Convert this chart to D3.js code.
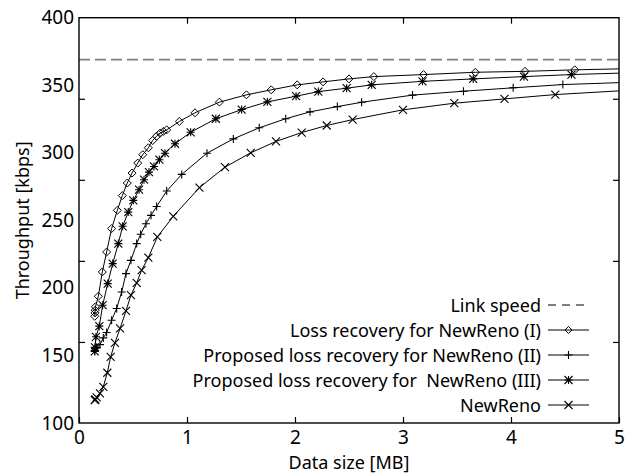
<!DOCTYPE html>
<html>
<head>
<meta charset="utf-8">
<script src="https://cdn.jsdelivr.net/npm/d3@7"></script>
<style>
  html, body { margin: 0; padding: 0; background: #fff; }
  svg { display: block; font-family: "Noto Sans", "Lato", sans-serif; }
</style>
</head>
<body>
<svg id="chart" width="625" height="474"></svg>
<script>
// ---- data ----
const linkSpeed = 369;

const sizesI = [0.146,0.148,0.150,0.152,0.179,0.216,0.256,0.302,0.355,0.401,0.447,0.491,0.544,0.590,0.642,0.682,0.719,0.750,0.781,0.812,0.929,1.074,1.30,1.55,1.78,2.02,2.26,2.50,2.73,3.19,3.67,4.13,4.59,5.1];
const tputI  = [179,181.5,183.5,186,193.8,211.8,226.6,243.9,257.4,268.3,277.6,285,292.4,298.6,303.7,309.1,312.3,314.5,315.8,317,323.2,329.6,337.5,342.9,346.6,350.3,352.5,354.7,356.4,357.9,359.6,360.3,361.4,362.3];

const sizesII = [0.146,0.150,0.164,0.194,0.225,0.256,0.302,0.349,0.395,0.435,0.481,0.534,0.571,0.620,0.667,0.719,0.812,0.951,1.185,1.429,1.669,1.914,2.139,2.392,2.617,3.088,3.56,4.02,4.48,5.1];
const tputII  = [153.5,155,156,158,163,167,176.1,184.8,197,210.6,220.4,232.8,239.7,247.5,253.7,260.3,271.7,284,299.7,310.3,318.5,325.2,330.3,334.2,337.4,342.7,345.6,348.1,350.5,352.2];

const sizesIII = [0.146,0.148,0.157,0.188,0.219,0.266,0.312,0.364,0.404,0.456,0.503,0.556,0.602,0.648,0.694,0.744,0.796,0.889,1.034,1.267,1.506,1.744,2.01,2.216,2.478,2.71,3.18,3.65,4.12,4.56,5.1];
const tputIII  = [153,156,163.8,171.7,187.2,203.2,218,232.8,245.6,256.1,264.8,272.7,280.1,285.7,289.9,294.9,299.7,306.7,315.2,325.2,332,337.7,341.9,345.3,347.8,350.3,352.9,354.7,356.4,357.9,359.2];

const sizesNR = [0.146,0.152,0.164,0.194,0.225,0.262,0.293,0.333,0.380,0.435,0.481,0.534,0.580,0.642,0.725,0.873,1.115,1.352,1.59,1.824,2.062,2.294,2.534,3.0,3.475,3.94,4.41,5.1];
const tputNR  = [117,117.5,119,121.9,126.8,137.2,149,159.3,170,183,194.6,203.7,213.1,222.4,237.7,253,274.2,289.4,300,308.4,315,320.2,324.6,331.8,336.7,339.9,343.1,346.3];

const seriesNames = [
  "Loss recovery for NewReno (I)",
  "Proposed loss recovery for NewReno (II)",
  "Proposed loss recovery for  NewReno (III)",
  "NewReno"
];
const seriesMarkers = ["diamond", "plus", "star", "cross"];
const linkLabel = "Link speed";

const xTickValues = [0, 1, 2, 3, 4, 5];
const yLabelValues = [100, 150, 200, 250, 300, 350, 400];
const yTickMarks = [160, 220, 280, 340];
const xTitle = "Data size [MB]";
const yTitle = "Throughput [kbps]";

// ---- layout ----
const L = 79, R = 619, T = 17.7, B = 423;
const svg = d3.select("#chart");
const x = d3.scaleLinear().domain([0, 5]).range([L, R]);
const y = d3.scaleLinear().domain([100, 400]).range([B, T]);

const FONT = "'Noto Sans', Lato, sans-serif";
const fontSize = 19;

svg.append("defs").append("clipPath").attr("id", "clip")
  .append("rect").attr("x", L).attr("y", T).attr("width", R - L).attr("height", B - T);

// link speed dashed line
svg.append("line")
  .attr("x1", x(0)).attr("x2", x(5))
  .attr("y1", y(linkSpeed)).attr("y2", y(linkSpeed))
  .attr("stroke", "#808080").attr("stroke-width", 1.6)
  .attr("stroke-dasharray", "11,5");

// markers
function drawMarker(g, type, cx, cy, s) {
  if (type === "diamond") {
    g.append("path").attr("d", `M${cx},${cy - s}L${cx + s},${cy}L${cx},${cy + s}L${cx - s},${cy}Z`)
      .attr("fill", "none").attr("stroke", "#000").attr("stroke-width", 1);
  } else if (type === "plus") {
    g.append("path").attr("d", `M${cx - s},${cy}H${cx + s}M${cx},${cy - s}V${cy + s}`)
      .attr("stroke", "#000").attr("stroke-width", 1.1);
  } else if (type === "cross") {
    g.append("path").attr("d", `M${cx - s},${cy - s}L${cx + s},${cy + s}M${cx - s},${cy + s}L${cx + s},${cy - s}`)
      .attr("stroke", "#000").attr("stroke-width", 1.1);
  } else if (type === "star") {
    g.append("path").attr("d", `M${cx - s},${cy}H${cx + s}M${cx},${cy - s}V${cy + s}M${cx - s},${cy - s}L${cx + s},${cy + s}M${cx - s},${cy + s}L${cx + s},${cy - s}`)
      .attr("stroke", "#000").attr("stroke-width", 1.1);
  }
}

const allSeries = [
  { xs: sizesI, ys: tputI, m: seriesMarkers[0] },
  { xs: sizesII, ys: tputII, m: seriesMarkers[1] },
  { xs: sizesIII, ys: tputIII, m: seriesMarkers[2] },
  { xs: sizesNR, ys: tputNR, m: seriesMarkers[3] }
];

const line = d3.line().x(d => x(d[0])).y(d => y(d[1]));
const plot = svg.append("g").attr("clip-path", "url(#clip)");
allSeries.forEach(s => {
  const pts = s.xs.map((v, i) => [v, s.ys[i]]);
  plot.append("path").datum(pts).attr("d", line)
    .attr("fill", "none").attr("stroke", "#000").attr("stroke-width", 1);
  const mg = plot.append("g");
  pts.forEach(p => drawMarker(mg, s.m, x(p[0]), y(p[1]), 4));
});

// axes frame
svg.append("rect").attr("x", L).attr("y", T).attr("width", R - L).attr("height", B - T)
  .attr("fill", "none").attr("stroke", "#000").attr("stroke-width", 1.4);

// bottom axis (ticks inward + labels)
const xAxisB = svg.append("g").attr("transform", `translate(0,${B})`)
  .call(d3.axisBottom(x).tickValues(xTickValues).tickSizeInner(-6).tickSizeOuter(0).tickPadding(8).tickFormat(d3.format("d")));
xAxisB.select(".domain").remove();
xAxisB.selectAll("text").attr("font-size", fontSize).attr("font-family", FONT).attr("fill", "#000");
xAxisB.selectAll("line").attr("stroke-width", 1.2);

// top axis ticks
const xAxisT = svg.append("g").attr("transform", `translate(0,${T})`)
  .call(d3.axisTop(x).tickValues(xTickValues.slice(1, -1)).tickSizeInner(-6).tickSizeOuter(0).tickFormat(""));
xAxisT.select(".domain").remove();
xAxisT.selectAll("line").attr("stroke-width", 1.2);

// left axis labels
const yAxisL = svg.append("g").attr("transform", `translate(${L},0)`)
  .call(d3.axisLeft(y).tickValues(yLabelValues).tickSize(0).tickPadding(5).tickFormat(d3.format("d")));
yAxisL.select(".domain").remove();
yAxisL.selectAll("text").attr("font-size", fontSize).attr("font-family", FONT).attr("fill", "#000");

// left tick marks
const yTicksL = svg.append("g").attr("transform", `translate(${L},0)`)
  .call(d3.axisLeft(y).tickValues(yTickMarks).tickSizeInner(-6).tickSizeOuter(0).tickFormat(""));
yTicksL.select(".domain").remove();
yTicksL.selectAll("line").attr("stroke-width", 1.2);

// right tick marks
const yTicksR = svg.append("g").attr("transform", `translate(${R},0)`)
  .call(d3.axisRight(y).tickValues(yTickMarks).tickSizeInner(-6).tickSizeOuter(0).tickFormat(""));
yTicksR.select(".domain").remove();
yTicksR.selectAll("line").attr("stroke-width", 1.2);

// axis titles
svg.append("text").attr("x", (L + R) / 2).attr("y", 462)
  .attr("text-anchor", "middle").attr("dominant-baseline", "central")
  .attr("font-size", 18).text(xTitle);
svg.append("text").attr("transform", `translate(22,${(T + B) / 2}) rotate(-90)`)
  .attr("text-anchor", "middle").attr("dominant-baseline", "central")
  .attr("font-size", 18).text(yTitle);

// legend
const legX = 541, legY0 = 305, legDy = 25;
const legend = svg.append("g").attr("font-size", 18);
const legRows = [{ name: linkLabel, m: null }].concat(seriesNames.map((n, i) => ({ name: n, m: seriesMarkers[i] })));
legRows.forEach((r, i) => {
  const yy = legY0 + i * legDy;
  legend.append("text").attr("x", legX).attr("y", yy)
    .attr("text-anchor", "end").attr("dominant-baseline", "central")
    .style("white-space", "pre").attr("xml:space", "preserve").text(r.name);
  const ln = legend.append("line").attr("x1", legX + 7).attr("x2", legX + 48)
    .attr("y1", yy).attr("y2", yy);
  if (r.m === null) {
    ln.attr("stroke", "#000").attr("stroke-width", 1.2).attr("stroke-dasharray", "8,6");
  } else {
    ln.attr("stroke", "#000").attr("stroke-width", 1);
    drawMarker(legend, r.m, legX + 27.5, yy, r.m === "diamond" ? 3.5 : 4);
  }
});
</script>
</body>
</html>
